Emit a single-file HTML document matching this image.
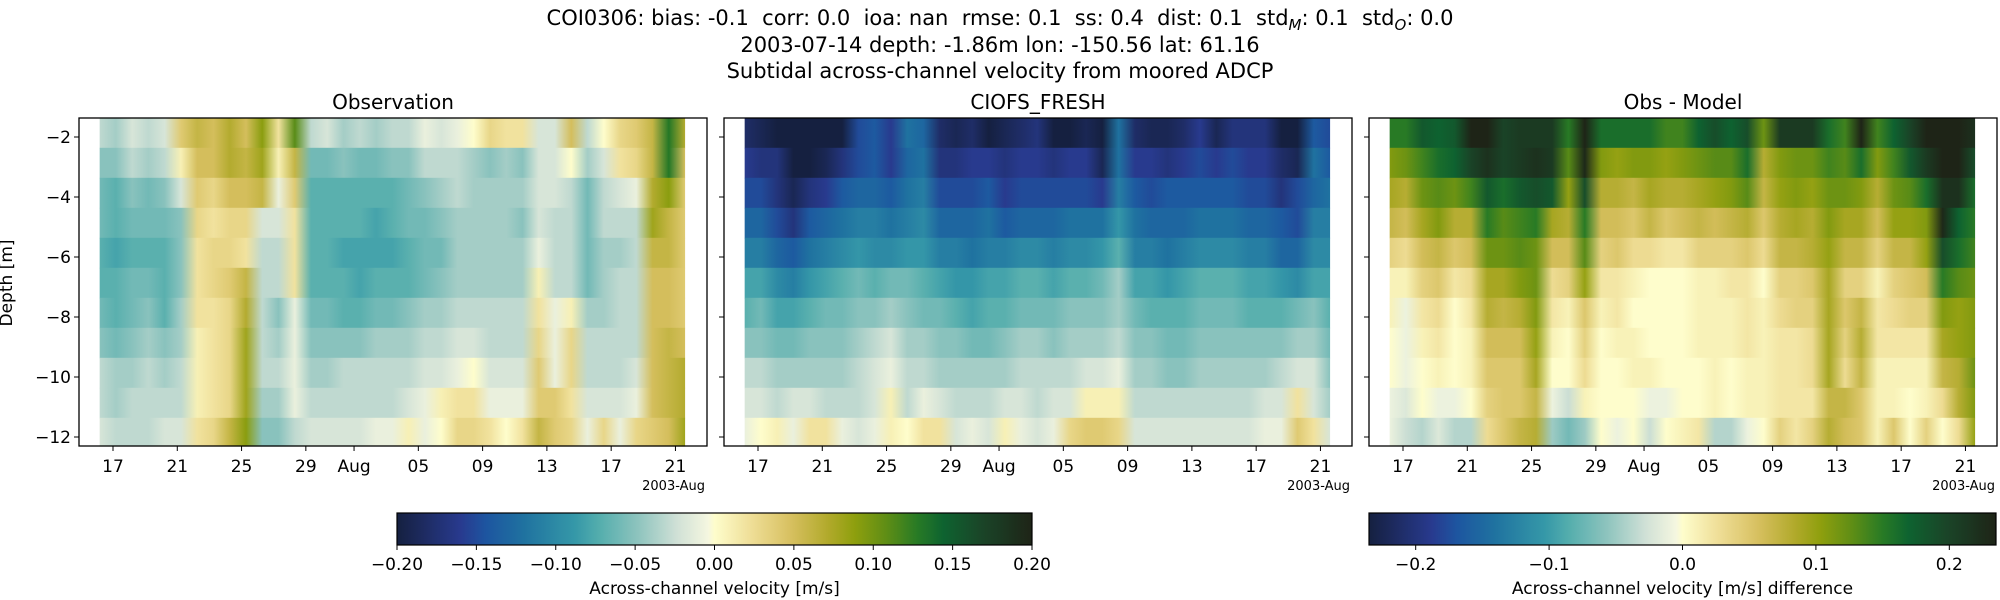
<!DOCTYPE html>
<html><head><meta charset="utf-8">
<style>
body{margin:0;background:#fff;}
svg{display:block;font-family:"DejaVu Sans","Liberation Sans",sans-serif;}
.pre{white-space:pre;}
</style></head>
<body>
<svg id="fig" width="2000" height="600" viewBox="0 0 2000 600">
<defs id="defs"></defs>
<text class="pre" x="1000" y="25" text-anchor="middle" font-size="21">COI0306: bias: -0.1  corr: 0.0  ioa: nan  rmse: 0.1  ss: 0.4  dist: 0.1  std<tspan font-size="15" dy="5" font-style="italic">M</tspan><tspan dy="-5">: 0.1  std</tspan><tspan font-size="15" dy="5" font-style="italic">O</tspan><tspan dy="-5">: 0.0</tspan></text>
<text x="1000" y="52" text-anchor="middle" font-size="21">2003-07-14 depth: -1.86m lon: -150.56 lat: 61.16</text>
<text x="1000" y="78" text-anchor="middle" font-size="21">Subtidal across-channel velocity from moored ADCP</text>
<text x="12" y="283" text-anchor="middle" font-size="17" transform="rotate(-90 12 283)">Depth [m]</text>
<g id="panels"></g>
<g id="cbars"></g>
</svg>
<script>
// ---- data ----
const tickLabels = ["17","21","25","29","Aug","05","09","13","17","21"];
const tickDays = [1,5,9,13,16,20,24,28,32,36]; // days after Jul 16
const depthTicks = [-2,-4,-6,-8,-10,-12];
const depths = [-1.86,-2.86,-3.86,-4.86,-5.86,-6.86,-7.86,-8.86,-9.86,-10.86,-11.86];
const cbar1Ticks = [-0.2,-0.15,-0.1,-0.05,0,0.05,0.1,0.15,0.2];
const cbar2Ticks = [-0.2,-0.1,0,0.1,0.2];
const obs0=[-0.03,-0.04,-0.02,-0.03,-0.02,0.04,0.06,0.05,0.07,0.05,0.09,0.02,0.11,-0.03,-0.02,-0.04,-0.03,-0.04,-0.03,-0.03,-0.01,-0.02,-0.01,0.0,0.03,0.02,0.02,-0.02,-0.02,0.05,-0.03,0.0,0.03,0.04,0.06,0.13,0.07];
const obs1=[-0.05,-0.05,-0.03,-0.04,-0.03,0.01,0.05,0.05,0.07,0.06,0.08,0.01,0.06,-0.06,-0.06,-0.05,-0.06,-0.06,-0.05,-0.05,-0.03,-0.03,-0.03,-0.04,-0.05,-0.04,-0.05,-0.02,-0.02,0.0,-0.04,-0.02,0.02,0.03,0.06,0.13,0.05];
const obs2=[-0.06,-0.07,-0.05,-0.06,-0.05,-0.02,0.04,0.03,0.05,0.05,0.06,-0.01,0.04,-0.07,-0.07,-0.07,-0.07,-0.07,-0.07,-0.06,-0.05,-0.04,-0.03,-0.04,-0.04,-0.04,-0.04,-0.02,-0.02,-0.03,-0.06,-0.03,-0.02,-0.01,0.07,0.09,0.04];
const obs3=[-0.06,-0.07,-0.06,-0.06,-0.06,-0.05,0.03,0.02,0.03,0.03,-0.02,-0.02,0.02,-0.07,-0.07,-0.07,-0.07,-0.08,-0.07,-0.06,-0.06,-0.05,-0.04,-0.04,-0.04,-0.04,-0.05,-0.02,-0.03,-0.03,-0.06,-0.03,-0.03,-0.03,0.08,0.06,0.04];
const obs4=[-0.07,-0.08,-0.07,-0.07,-0.07,-0.05,0.02,0.03,0.03,0.02,-0.03,-0.03,0.02,-0.07,-0.07,-0.08,-0.08,-0.08,-0.08,-0.07,-0.06,-0.06,-0.04,-0.04,-0.04,-0.04,-0.04,-0.01,-0.03,-0.03,-0.06,-0.04,-0.04,-0.03,0.06,0.06,0.04];
const obs5=[-0.07,-0.07,-0.06,-0.06,-0.07,-0.05,0.02,0.03,0.04,0.06,-0.03,-0.03,0.02,-0.07,-0.07,-0.07,-0.08,-0.07,-0.07,-0.07,-0.06,-0.05,-0.04,-0.04,-0.04,-0.04,-0.04,0.01,-0.03,-0.03,-0.06,-0.04,-0.03,-0.03,0.05,0.05,0.04];
const obs6=[-0.06,-0.07,-0.06,-0.05,-0.07,-0.04,0.02,0.02,0.03,0.07,-0.03,-0.05,-0.01,-0.06,-0.06,-0.07,-0.07,-0.06,-0.06,-0.05,-0.04,-0.04,-0.03,-0.03,-0.03,-0.03,-0.03,0.02,-0.01,0.01,-0.04,-0.04,-0.03,-0.03,0.05,0.05,0.04];
const obs7=[-0.05,-0.06,-0.05,-0.04,-0.05,-0.04,0.01,0.02,0.03,0.08,-0.03,-0.04,-0.01,-0.05,-0.05,-0.05,-0.05,-0.04,-0.04,-0.04,-0.03,-0.03,-0.02,-0.02,-0.03,-0.03,-0.03,0.03,-0.01,0.03,-0.03,-0.03,-0.03,-0.03,0.05,0.06,0.05];
const obs8=[-0.03,-0.04,-0.04,-0.03,-0.04,-0.03,0.01,0.02,0.03,0.08,-0.03,-0.03,-0.01,-0.04,-0.04,-0.03,-0.03,-0.03,-0.03,-0.03,-0.02,-0.02,-0.01,0.0,-0.02,-0.02,-0.02,0.04,-0.01,0.03,-0.03,-0.03,-0.03,-0.02,0.05,0.06,0.07];
const obs9=[-0.03,-0.04,-0.03,-0.03,-0.03,-0.03,0.01,0.02,0.03,0.08,-0.04,-0.04,-0.01,-0.03,-0.03,-0.03,-0.03,-0.03,-0.03,-0.02,-0.01,0.01,0.02,0.02,-0.01,-0.01,-0.01,0.04,0.04,0.02,-0.02,-0.02,-0.02,-0.01,0.05,0.06,0.07];
const obs10=[-0.02,-0.03,-0.03,-0.03,-0.02,-0.02,0.02,0.03,0.06,0.09,-0.05,-0.05,-0.03,-0.02,-0.02,-0.02,-0.02,-0.01,-0.01,0.01,-0.01,0.0,0.03,0.03,0.02,0.0,0.02,0.06,0.04,0.03,-0.01,0.03,-0.01,0.03,0.04,0.05,0.08];
const mod0=[-0.18,-0.19,-0.20,-0.20,-0.20,-0.20,-0.20,-0.15,-0.14,-0.16,-0.12,-0.13,-0.18,-0.19,-0.18,-0.20,-0.19,-0.18,-0.17,-0.20,-0.20,-0.19,-0.20,-0.12,-0.18,-0.19,-0.19,-0.18,-0.16,-0.19,-0.17,-0.17,-0.17,-0.20,-0.20,-0.14,-0.15];
const mod1=[-0.16,-0.17,-0.17,-0.20,-0.20,-0.19,-0.17,-0.15,-0.14,-0.16,-0.13,-0.12,-0.17,-0.17,-0.16,-0.16,-0.17,-0.16,-0.16,-0.17,-0.16,-0.16,-0.19,-0.12,-0.16,-0.16,-0.17,-0.16,-0.15,-0.16,-0.15,-0.16,-0.16,-0.18,-0.19,-0.12,-0.14];
const mod2=[-0.15,-0.15,-0.17,-0.19,-0.17,-0.16,-0.14,-0.13,-0.13,-0.14,-0.12,-0.11,-0.15,-0.15,-0.15,-0.14,-0.16,-0.15,-0.15,-0.15,-0.15,-0.15,-0.16,-0.11,-0.14,-0.15,-0.14,-0.14,-0.14,-0.14,-0.14,-0.15,-0.15,-0.17,-0.15,-0.13,-0.12];
const mod3=[-0.13,-0.13,-0.15,-0.17,-0.14,-0.13,-0.12,-0.11,-0.11,-0.12,-0.11,-0.10,-0.13,-0.13,-0.13,-0.12,-0.14,-0.13,-0.13,-0.13,-0.12,-0.12,-0.12,-0.09,-0.12,-0.13,-0.13,-0.13,-0.12,-0.12,-0.12,-0.13,-0.13,-0.14,-0.15,-0.11,-0.11];
const mod4=[-0.11,-0.11,-0.13,-0.14,-0.12,-0.11,-0.10,-0.09,-0.10,-0.10,-0.09,-0.09,-0.11,-0.11,-0.12,-0.11,-0.11,-0.10,-0.10,-0.11,-0.10,-0.10,-0.09,-0.07,-0.11,-0.11,-0.12,-0.11,-0.10,-0.10,-0.10,-0.11,-0.11,-0.13,-0.13,-0.10,-0.10];
const mod5=[-0.08,-0.08,-0.10,-0.11,-0.09,-0.08,-0.07,-0.06,-0.07,-0.06,-0.06,-0.07,-0.08,-0.09,-0.09,-0.08,-0.08,-0.07,-0.07,-0.08,-0.07,-0.07,-0.06,-0.04,-0.08,-0.08,-0.09,-0.08,-0.07,-0.07,-0.07,-0.08,-0.08,-0.09,-0.10,-0.08,-0.08];
const mod6=[-0.07,-0.06,-0.08,-0.08,-0.07,-0.06,-0.06,-0.05,-0.05,-0.04,-0.05,-0.06,-0.06,-0.07,-0.08,-0.07,-0.07,-0.06,-0.06,-0.06,-0.05,-0.05,-0.05,-0.04,-0.06,-0.07,-0.07,-0.07,-0.06,-0.06,-0.06,-0.07,-0.07,-0.07,-0.06,-0.05,-0.07];
const mod7=[-0.05,-0.05,-0.06,-0.06,-0.05,-0.05,-0.05,-0.04,-0.03,-0.02,-0.04,-0.04,-0.05,-0.05,-0.06,-0.06,-0.05,-0.04,-0.04,-0.05,-0.04,-0.04,-0.04,-0.03,-0.05,-0.05,-0.06,-0.06,-0.05,-0.05,-0.05,-0.05,-0.05,-0.05,-0.04,-0.04,-0.06];
const mod8=[-0.03,-0.03,-0.04,-0.04,-0.04,-0.04,-0.04,-0.03,-0.02,-0.01,-0.03,-0.03,-0.04,-0.04,-0.04,-0.04,-0.04,-0.03,-0.03,-0.03,-0.03,-0.02,-0.02,-0.01,-0.04,-0.04,-0.05,-0.05,-0.04,-0.04,-0.04,-0.04,-0.04,-0.03,-0.02,-0.02,-0.05];
const mod9=[-0.02,-0.02,-0.03,-0.02,-0.02,-0.03,-0.03,-0.03,-0.02,0.01,-0.03,-0.01,-0.02,-0.03,-0.03,-0.03,-0.02,-0.02,-0.03,-0.02,-0.02,0.01,0.01,0.01,-0.03,-0.03,-0.03,-0.03,-0.03,-0.03,-0.03,-0.03,-0.02,-0.02,0.02,-0.02,-0.04];
const mod10=[-0.01,0.0,0.01,-0.01,0.02,0.02,-0.01,-0.02,-0.01,0.01,0.0,0.02,0.02,-0.02,-0.01,-0.02,0.01,-0.01,-0.02,-0.01,0.03,0.04,0.04,0.03,-0.02,-0.02,-0.02,-0.02,-0.02,-0.02,-0.02,-0.02,-0.01,-0.01,0.04,0.02,-0.02];
const obs=[obs0,obs1,obs2,obs3,obs4,obs5,obs6,obs7,obs8,obs9,obs10];
const model=[mod0,mod1,mod2,mod3,mod4,mod5,mod6,mod7,mod8,mod9,mod10];
const tStart = 0.17, tEnd = 36.6; // days after Jul 16

// ---- colormap (sampled from reference colorbar) ----
const cmStops=[[0,"#152040"],[0.10,"#283a8e"],[0.14,"#1d55a0"],[0.20,"#1f72a0"],[0.28,"#3598a8"],[0.32,"#55aead"],[0.38,"#8ec4be"],[0.44,"#cfe0d6"],[0.49,"#f5f7e0"],[0.50,"#fefdcc"],[0.56,"#eedd95"],[0.62,"#d7c060"],[0.68,"#b0a92a"],[0.72,"#8f9f0e"],[0.77,"#5f8e15"],[0.82,"#277a25"],[0.86,"#0e6330"],[0.92,"#1a4528"],[1,"#1e2417"]];
function hx(h){return [parseInt(h.substr(1,2),16),parseInt(h.substr(3,2),16),parseInt(h.substr(5,2),16)];}
function cmap(p){p=Math.max(0,Math.min(1,p));for(let i=1;i<cmStops.length;i++){if(p<=cmStops[i][0]){const a=cmStops[i-1],b=cmStops[i];const f=(p-a[0])/(b[0]-a[0]);const A=hx(a[1]),B=hx(b[1]);return "rgb("+A.map((v,k)=>Math.round(v+(B[k]-v)*f)).join(",")+")";}}return cmStops[cmStops.length-1][1];}

const NS="http://www.w3.org/2000/svg";
const fig=document.getElementById('fig'), defs=document.getElementById('defs');
function el(t,a,p){const e=document.createElementNS(NS,t);for(const k in a)e.setAttribute(k,a[k]);(p||fig).appendChild(e);return e;}

const plotTop=118, plotBot=446, pw=628;
function yScale(d){return 137+(-2-d)*30;}
const panels=[{x:79,title:"Observation",name:"observation",vmax:0.2,mode:0},{x:724,title:"CIOFS_FRESH",name:"model",vmax:0.2,mode:1},{x:1369,title:"Obs - Model",name:"difference",vmax:0.235,mode:2}];
let gid=0;
panels.forEach((P,pi)=>{
  const g=el('g',{},document.getElementById('panels'));
  
  
  const xScale=d=>P.x+34+(d-1)*16.07;
  const x0=xScale(tStart), x1=xScale(tEnd);
  for(let r=0;r<depths.length;r++){
    const vals=P.mode===0?obs[r]:P.mode===1?model[r]:obs[r].map((v,i)=>v-model[r][i]);
    const id='g'+(gid++);
    const lg=el('linearGradient',{id:id,x1:0,x2:1,y1:0,y2:0},defs);
    vals.forEach((v,i)=>{
      el('stop',{offset:(i/(vals.length-1)).toFixed(4),'stop-color':cmap((v+P.vmax)/(2*P.vmax))},lg);
    });
    const ya=Math.max(plotTop,yScale(depths[r]+0.5)), yb=Math.min(plotBot,yScale(depths[r]-0.5));
    const rect=el('rect',{x:x0,y:ya,width:x1-x0,height:yb-ya+0.6,fill:'url(#'+id+')'},g);
    
    
  }
  const fr=el('rect',{x:P.x,y:plotTop,width:pw,height:plotBot-plotTop,fill:'none',stroke:'#000','stroke-width':1.3},g);
  
  
  const t=el('text',{x:P.x+pw/2,y:109,'text-anchor':'middle','font-size':20},g);t.textContent=P.title;
  
  
  tickDays.forEach((d,i)=>{
    const x=xScale(d);
    el('line',{x1:x,x2:x,y1:plotBot,y2:plotBot+5,stroke:'#000'},g);
    const tl=el('text',{x:x,y:472,'text-anchor':'middle','font-size':17},g);tl.textContent=tickLabels[i];
    
    
  });
  const off=el('text',{x:P.x+pw-2,y:490,'text-anchor':'end','font-size':13},g);off.textContent="2003-Aug";
  
  
  depthTicks.forEach(d=>{
    const y=yScale(d);
    el('line',{x1:P.x-5,x2:P.x,y1:y,y2:y,stroke:'#000'},g);
    if(pi===0){const tl=el('text',{x:P.x-8,y:y+6,'text-anchor':'end','font-size':17},g);tl.textContent=String(d).replace('-','\u2212');
      
      }
  });
});

// ---- colorbars ----
const cbs=[{x:397,w:635,vmax:0.2,ticks:cbar1Ticks,fmt:v=>v.toFixed(2),label:"Across-channel velocity [m/s]",name:"colorbar-velocity"},
           {x:1369,w:627,vmax:0.235,ticks:cbar2Ticks,fmt:v=>v.toFixed(1),label:"Across-channel velocity [m/s] difference",name:"colorbar-difference"}];
cbs.forEach((C,ci)=>{
  const g=el('g',{},document.getElementById('cbars'));
  
  
  const id='cb'+ci;
  const lg=el('linearGradient',{id:id,x1:0,x2:1,y1:0,y2:0},defs);
  for(let i=0;i<=100;i++)el('stop',{offset:i/100,'stop-color':cmap(i/100)},lg);
  el('rect',{x:C.x,y:513,width:C.w,height:32,fill:'url(#'+id+')',stroke:'#000','stroke-width':1.2},g);
  C.ticks.forEach(v=>{
    const x=C.x+(v+C.vmax)/(2*C.vmax)*C.w;
    el('line',{x1:x,x2:x,y1:545,y2:550,stroke:'#000'},g);
    const t=el('text',{x:x,y:570,'text-anchor':'middle','font-size':17},g);t.textContent=C.fmt(v).replace('-','\u2212');
    
    
  });
  const l=el('text',{x:C.x+C.w/2,y:594,'text-anchor':'middle','font-size':17},g);l.textContent=C.label;
  
  
});
</script>
</body></html>
